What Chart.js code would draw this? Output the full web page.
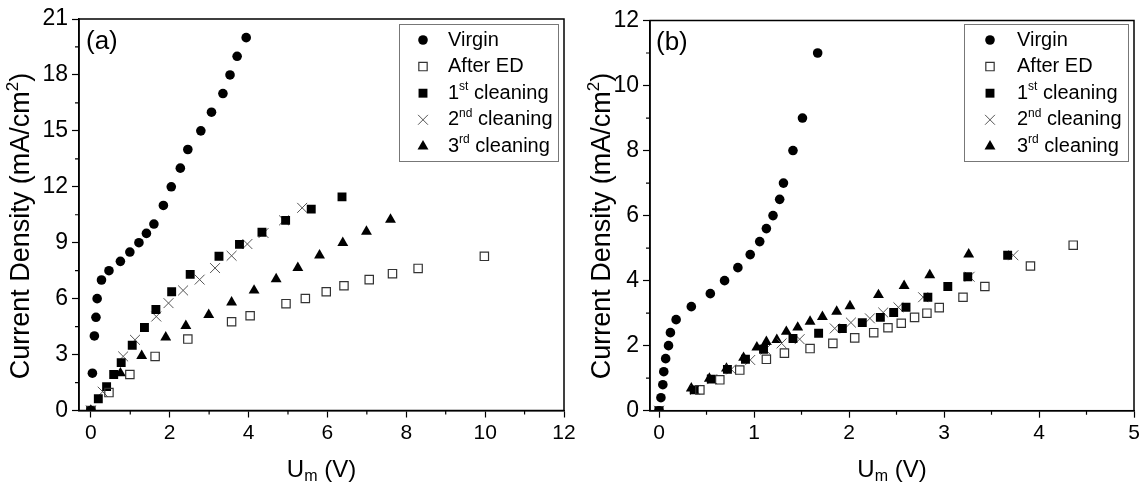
<!DOCTYPE html>
<html><head><meta charset="utf-8">
<script src="https://cdn.jsdelivr.net/npm/chart.js@4.4.1/dist/chart.umd.min.js"></script>
<style>
html,body{margin:0;padding:0;background:#fff;}
#wrap{position:relative;width:1145px;height:493px;overflow:hidden;background:#fff;}
canvas{position:absolute;top:0;}
#ca{left:0;} #cb{left:580px;}
</style></head><body>
<div id="wrap"><canvas id="ca" width="580" height="493"></canvas><canvas id="cb" width="565" height="493"></canvas></div>
<script>
// ---------- tick labels ----------
const xTicksA=[0,2,4,6,8,10,12], yTicksA=[0,3,6,9,12,15,18,21];
const xMinorA=[1,3,5,7,9,11], yMinorA=[1.5,4.5,7.5,10.5,13.5,16.5,19.5];
const xTicksB=[0,1,2,3,4,5], yTicksB=[0,2,4,6,8,10,12];
const xMinorB=[0.5,1.5,2.5,3.5,4.5], yMinorB=[1,3,5,7,9,11];
const seriesLabels=["Virgin","After ED","1st cleaning","2nd cleaning","3rd cleaning"];

// ---------- panel (a) ----------
const virginA_x=[0,0.04,0.09,0.13,0.16,0.27,0.46,0.75,0.99,1.22,1.41,1.60,1.84,2.04,2.27,2.46,2.79,3.06,3.35,3.53,3.71,3.94];
const virginA_y=[0,2,4,5,6,7,7.5,8,8.5,9,9.5,10,11,12,13,14,15,16,17,18,19,20];
const afterEDA_x=[0,0.46,0.99,1.63,2.46,3.57,4.04,4.95,5.44,5.97,6.42,7.06,7.65,8.30,9.98];
const afterEDA_y=[0,0.96,1.93,2.9,3.83,4.76,5.08,5.73,6.01,6.37,6.69,7.02,7.34,7.62,8.27];
const clean1A_x=[0,0.19,0.40,0.58,0.77,1.05,1.36,1.65,2.05,2.52,3.25,3.77,4.34,4.94,5.59,6.37];
const clean1A_y=[0,0.63,1.28,1.93,2.57,3.5,4.45,5.42,6.37,7.3,8.27,8.91,9.56,10.2,10.8,11.46];
const clean2A_x=[0,0.30,0.82,1.12,1.66,1.97,2.34,2.76,3.15,3.57,3.97,4.38,4.9,5.36];
const clean2A_y=[0,1.01,2.9,3.79,5.04,5.76,6.44,7.02,7.64,8.3,8.93,9.52,10.2,10.87];
const clean3A_x=[0,0.75,1.29,1.90,2.41,2.99,3.57,4.14,4.70,5.25,5.80,6.39,6.99,7.60];
const clean3A_y=[0,2.0,2.93,3.92,4.54,5.13,5.8,6.44,7.05,7.65,8.32,8.99,9.6,10.24];

// ---------- panel (b) ----------
const virginB_x=[0,0.02,0.04,0.05,0.07,0.10,0.12,0.18,0.34,0.54,0.69,0.83,0.96,1.06,1.13,1.20,1.27,1.31,1.41,1.51,1.67];
const virginB_y=[0,0.4,0.8,1.2,1.6,2.0,2.4,2.8,3.2,3.6,4.0,4.4,4.8,5.2,5.6,6.0,6.5,7.0,8.0,9.0,11.0];
const afterEDB_x=[0.43,0.64,0.85,1.13,1.32,1.59,1.83,2.06,2.26,2.41,2.55,2.69,2.82,2.95,3.2,3.43,3.91,4.36];
const afterEDB_y=[0.64,0.95,1.25,1.58,1.77,1.91,2.07,2.24,2.4,2.55,2.69,2.87,3.0,3.17,3.49,3.82,4.45,5.09];
const clean1B_x=[0,0.37,0.55,0.72,0.91,1.10,1.41,1.68,1.93,2.14,2.33,2.47,2.60,2.83,3.04,3.25,3.67];
const clean1B_y=[0,0.64,0.97,1.27,1.58,1.89,2.22,2.38,2.53,2.71,2.87,3.02,3.18,3.49,3.82,4.12,4.78];
const clean2B_x=[0,0.38,0.56,0.76,0.96,1.12,1.29,1.48,1.85,2.02,2.22,2.36,2.52,2.78,3.27,3.73];
const clean2B_y=[0,0.64,0.97,1.27,1.56,1.88,2.07,2.2,2.53,2.71,2.84,3.02,3.18,3.49,4.12,4.78];
const clean3B_x=[0.34,0.53,0.71,0.89,1.03,1.13,1.24,1.34,1.46,1.59,1.72,1.87,2.01,2.31,2.58,2.85,3.26];
const clean3B_y=[0.69,0.99,1.3,1.63,1.95,2.12,2.18,2.43,2.56,2.74,2.89,3.05,3.22,3.56,3.84,4.17,4.81];

const FF="'Liberation Sans', Arial, Helvetica, sans-serif";
const pts=(xs,ys)=>xs.map((x,i)=>({x:x,y:ys[i]}));

const styles=[
 {pointStyle:'circle',pointRadius:4.8,backgroundColor:'#000',borderColor:'#000',borderWidth:0},
 {pointStyle:'rect',pointRadius:5.9,backgroundColor:'rgba(255,255,255,0)',borderColor:'#333',borderWidth:1.2},
 {pointStyle:'rect',pointRadius:6.3,backgroundColor:'#000',borderColor:'#000',borderWidth:0},
 {pointStyle:'crossRot',pointRadius:7,backgroundColor:'rgba(0,0,0,0)',borderColor:'#555',borderWidth:1},
 {pointStyle:'triangle',pointRadius:6.3,backgroundColor:'#000',borderColor:'#000',borderWidth:0}
];

function drawMarker(ctx,st,x,y){
  const r=st.pointRadius;
  ctx.save();
  ctx.fillStyle=st.backgroundColor; ctx.strokeStyle=st.borderColor; ctx.lineWidth=st.borderWidth||1;
  ctx.beginPath();
  if(st.pointStyle==='circle'){ctx.arc(x,y,r,0,Math.PI*2);ctx.fill();}
  else if(st.pointStyle==='rect'){const s=r*Math.SQRT1_2;ctx.rect(x-s,y-s,2*s,2*s);ctx.fill();if(st.borderWidth)ctx.stroke();}
  else if(st.pointStyle==='crossRot'){const d=r*Math.SQRT1_2;ctx.moveTo(x-d,y-d);ctx.lineTo(x+d,y+d);ctx.moveTo(x-d,y+d);ctx.lineTo(x+d,y-d);ctx.stroke();}
  else if(st.pointStyle==='triangle'){ctx.moveTo(x,y-r);ctx.lineTo(x+0.866*r,y+0.5*r);ctx.lineTo(x-0.866*r,y+0.5*r);ctx.closePath();ctx.fill();}
  ctx.restore();
}

function drawParts(ctx,parts,x,y){
  // parts: [{t, k}] k: 0 normal, 1 sup, -1 sub; returns width
  let cx=x;
  parts.forEach(p=>{
    ctx.font=p.size+'px '+FF;
    ctx.fillText(p.t,cx,y+(p.dy||0));
    cx+=ctx.measureText(p.t).width;
  });
  return cx-x;
}
function measureParts(ctx,parts){
  let w=0;parts.forEach(p=>{ctx.font=p.size+'px '+FF;w+=ctx.measureText(p.t).width;});return w;
}
function labelParts(lbl,size){
  const m=lbl.match(/^(\d+)(st|nd|rd|th)(.*)$/);
  if(!m) return [{t:lbl,size:size}];
  return [{t:m[1],size:size},{t:m[2],size:Math.round(size*0.62),dy:-size*0.33},{t:m[3],size:size}];
}

const decor={
  id:'decor',
  afterDraw(chart,args,o){
    const ctx=chart.ctx, ca=chart.chartArea, xs=chart.scales.x, ys=chart.scales.y;
    ctx.save();
    ctx.strokeStyle='#000'; ctx.lineWidth=1.5;
    ctx.strokeRect(ca.left,ca.top,ca.right-ca.left,ca.bottom-ca.top);
    ctx.lineWidth=1.2; ctx.beginPath();
    o.xMinor.forEach(v=>{const p=xs.getPixelForValue(v);ctx.moveTo(p,ca.bottom);ctx.lineTo(p,ca.bottom+4);});
    o.yMinor.forEach(v=>{const p=ys.getPixelForValue(v);ctx.moveTo(ca.left,p);ctx.lineTo(ca.left-4,p);});
    ctx.stroke();
    ctx.fillStyle='#000'; ctx.textBaseline='middle'; ctx.textAlign='left';
    // panel label
    ctx.font='26px '+FF; ctx.fillText(o.panel,o.panelX,o.panelY);
    // x title with subscript
    const xp=[{t:'U',size:24},{t:'m',size:16,dy:7},{t:' (V)',size:24}];
    const xw=measureParts(ctx,xp);
    drawParts(ctx,xp,(ca.left+ca.right)/2-xw/2,o.xTitleY);
    // y title with superscript
    const yp=[{t:'Current Density (mA/cm',size:27},{t:'2',size:17,dy:-9},{t:')',size:27}];
    const yw=measureParts(ctx,yp);
    ctx.save(); ctx.translate(o.yTitleX,o.yTitleY); ctx.rotate(-Math.PI/2);
    drawParts(ctx,yp,-yw/2,0); ctx.restore();
    // legend
    const L=o.legend;
    ctx.strokeStyle='#777'; ctx.lineWidth=1;
    ctx.strokeRect(L.x1+0.5,L.y1+0.5,L.x2-L.x1,L.y2-L.y1);
    chart.data.datasets.forEach((ds,i)=>{
      const y=L.y0+i*L.step;
      drawMarker(ctx,styles[i],L.mx,y);
      ctx.fillStyle='#000';
      drawParts(ctx,labelParts(ds.label,20),L.tx,y);
    });
    ctx.restore();
  }
};

function axisOpts(min,max,ticksArr,fontSize,isX,fitSize){
  return {
    type:'linear',min:min,max:max,
    afterBuildTicks:s=>{s.ticks=ticksArr.map(v=>({value:v}));},
    afterFit:s=>{ if(isX) s.height=fitSize; else s.width=fitSize; },
    grid:{drawOnChartArea:false,drawTicks:true,tickLength:7,tickColor:'#000',tickWidth:1.2},
    border:{display:true,color:'#000',width:1.5},
    ticks:{font:{family:FF,size:fontSize},color:'#000',padding:isX?3:4,maxRotation:0,autoSkip:false},
    title:{display:false}
  };
}

function makeChart(id,series,cfg){
  return new Chart(document.getElementById(id),{
    type:'scatter',
    data:{datasets:series.map((d,i)=>Object.assign({label:seriesLabels[i],data:d,showLine:false,pointHoverRadius:styles[i].pointRadius},styles[i]))},
    options:{
      responsive:false,animation:false,devicePixelRatio:1,events:[],
      layout:{padding:{top:cfg.padTop,right:cfg.padRight,left:0,bottom:0}},
      plugins:{legend:{display:false},tooltip:{enabled:false},decor:cfg.decor},
      scales:{
        x:axisOpts(cfg.xMin,cfg.xMax,cfg.xTicks,21,true,cfg.xH),
        y:axisOpts(cfg.yMin,cfg.yMax,cfg.yTicks,23,false,cfg.yW)
      }
    },
    plugins:[decor]
  });
}

makeChart('ca',[pts(virginA_x,virginA_y),pts(afterEDA_x,afterEDA_y),pts(clean1A_x,clean1A_y),pts(clean2A_x,clean2A_y),pts(clean3A_x,clean3A_y)],{
  padTop:19,padRight:16,xH:82.5,yW:79,xMin:-0.3,xMax:12,yMin:0,yMax:21,xTicks:xTicksA,yTicks:yTicksA,
  decor:{xMinor:xMinorA,yMinor:yMinorA,panel:'(a)',panelX:86,panelY:42,xTitleY:470,yTitleX:22,yTitleY:226,
    legend:{x1:399,y1:24,x2:558,y2:161,mx:423,tx:448,y0:40,step:26.6}}
});
makeChart('cb',[pts(virginB_x,virginB_y),pts(afterEDB_x,afterEDB_y),pts(clean1B_x,clean1B_y),pts(clean2B_x,clean2B_y),pts(clean3B_x,clean3B_y)],{
  padTop:20.5,padRight:11,xH:82.3,yW:70,xMin:-0.095,xMax:5,yMin:0,yMax:12,xTicks:xTicksB,yTicks:yTicksB,
  decor:{xMinor:xMinorB,yMinor:yMinorB,panel:'(b)',panelX:76,panelY:43,xTitleY:470,yTitleX:23,yTitleY:226,
    legend:{x1:384,y1:24,x2:548,y2:161,mx:410,tx:437,y0:40,step:26.6}}
});
</script>
</body></html>
